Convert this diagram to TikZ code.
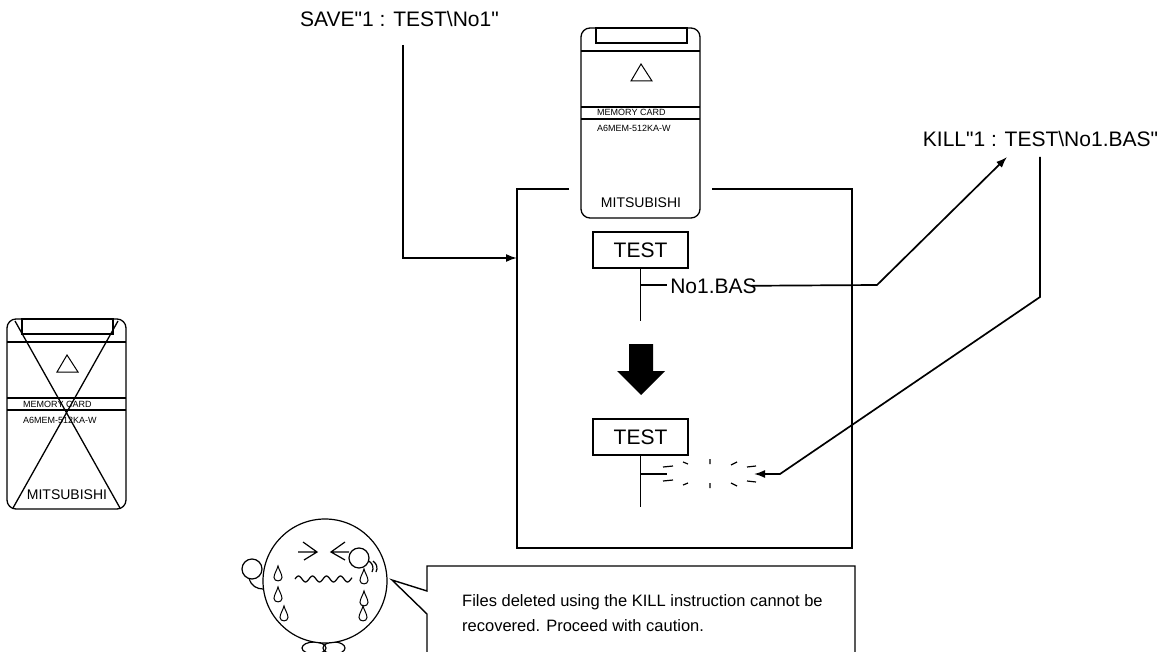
\documentclass[tikz,border=0pt]{standalone}
\usepackage{fontspec}
\setmainfont{Liberation Sans}
\usetikzlibrary{arrows.meta}
\begin{document}
\begin{tikzpicture}[x=1pt,y=-1pt,
  conn/.style={line width=1.7pt},
  tip/.style={-{Latex[length=11pt,width=8pt]}},
  lbl/.style={font=\fontsize{21}{26}\selectfont, inner sep=0pt},
  dirbox/.style={draw, line width=1.3pt, minimum width=95pt, minimum height=36pt, inner sep=0pt,
    font=\fontsize{21}{26}\selectfont},
  cardline/.style={line width=1.3pt},
  face/.style={line width=1.2pt},
  dashbit/.style={line width=1.2pt},
  cardsmall/.style={font=\fontsize{9}{10}\selectfont, anchor=base west, inner sep=0pt},
  memcard/.pic={
    \draw[cardline, rounded corners=9pt] (0,0) rectangle (119,190);
    \draw[cardline] (15,0) rectangle (106,15);
    \draw[cardline] (0,23) -- (119,23);
    \draw[line width=1pt, line join=miter] (60,36) -- (71,53) -- (50,53) -- cycle;
    \draw[cardline] (0,79) -- (119,79) (0,91) -- (119,91);
    \node[cardsmall] (-mc) at (16,88) {MEMORY CARD};
    \node[cardsmall] (-model) at (16,104) {A6MEM-512KA-W};
    \node[font=\fontsize{14}{16}\selectfont, anchor=base, inner sep=0pt] (-maker) at (60,180) {MITSUBISHI};
  },
  tear/.pic={
    \draw[line width=1pt] (0,0) .. controls (-1,4) and (-4,8) .. (-4,11.5)
      .. controls (-4,16) and (4,16) .. (4,11.5)
      .. controls (4,8) and (1,4) .. cycle;
  }
]
\useasboundingbox (0,0) rectangle (1166,652);
\clip (0,0) rectangle (1166,652);

% ---- memory cards ----
\pic (card) at (581,28) {memcard};
\pic (oldcard) at (7,319) {memcard};
\draw[cardline] (15,321) -- (120,508) (118,321) -- (13,508);

% ---- card contents frame ----
\draw[conn] (569,189) -- (517,189) -- (517,548) -- (852,548) -- (852,189) -- (712,189);

% ---- directory before deletion ----
\node[dirbox] (test1) at (640.5,250) {TEST};
\coordinate (tree1end) at (640.5,321);
\coordinate (tree1fork) at (640.5,285);
\coordinate (tree1leaf) at (667,285);
\draw[conn] (test1.south) -- (tree1end);
\draw[conn] (tree1fork) -- (tree1leaf);
\node[lbl, anchor=base] (bas) at (713.5,293) {No1.BAS};

% ---- big down arrow ----
\fill (629,344) -- (653,344) -- (653,371) -- (665,371) -- (641,395) -- (617,371) -- (629,371) -- cycle;

% ---- directory after deletion ----
\node[dirbox] (test2) at (640.5,437) {TEST};
\coordinate (tree2end) at (640.5,507);
\coordinate (tree2fork) at (640.5,474);
\coordinate (tree2leaf) at (667,474);
\draw[conn] (test2.south) -- (tree2end);
\draw[conn] (tree2fork) -- (tree2leaf);

% burst where the file used to be
\draw[dashbit]
  (663,467) -- (673,466)  (683,462) -- (688,464)
  (663,481) -- (673,480)  (683,485) -- (688,483)
  (710,459) -- (710,464)  (710,483) -- (710,488)
  (731,465) -- (737,462)  (747,467) -- (756,466)
  (731,483) -- (737,486)  (747,481) -- (756,482);

% ---- instructions ----
\node[lbl, anchor=base] (save) at (399.5,27) {SAVE\textquotedbl 1 : TEST\textbackslash No1\textquotedbl};
\node[lbl, anchor=base] (kill) at (1040.5,147) {KILL\textquotedbl 1 : TEST\textbackslash No1.BAS\textquotedbl};

\coordinate (saveStart) at (403,45);
\coordinate (saveTurn) at (403,258);
\coordinate (saveIn) at (517,258);
\draw[conn,tip] (saveStart) -- (saveTurn) -- (saveIn);

\coordinate (basBend) at (877,285);
\coordinate (killIn) at (1007,157);
\draw[conn,tip] ([xshift=-5pt]bas.east) -- (basBend) -- (killIn);

\coordinate (killOut) at (1040,157);
\coordinate (killBend) at (1040,297);
\coordinate (delTurn) at (780,474);
\coordinate (delTip) at (754,474);
\draw[conn,tip] (killOut) -- (killBend) -- (delTurn) -- (delTip);

% ---- crying face ----
\draw[face] (314,648) ellipse[x radius=12, y radius=6];
\draw[face] (334,648) ellipse[x radius=11, y radius=6];
\draw[face, fill=white] (325,581) circle[radius=62];
% eyes
\draw[face] (298,552) -- (316,552) (303,542) -- (317,552) -- (304,560);
\draw[face] (331,552) -- (349,552) (345,542) -- (331,552) -- (345,560);
% mouth
\draw[face] plot[smooth, domain=0:57, samples=58] ({295+\x},{579-3*sin(\x*25.714)});
% tears
\pic at (278,566) {tear};
\pic at (278,587) {tear};
\pic at (284,606) {tear};
\pic at (364,569) {tear};
\pic at (364,591) {tear};
\pic at (363,606) {tear};
% hands
\draw[face] (249,578) .. controls (251,586) and (257,589) .. (263,589);
\draw[face, fill=white] (252,569) circle[radius=10];
\draw[face, fill=white] (359,558) circle[radius=10];
\draw[face] (369,561) .. controls (373,564) and (374,568) .. (372,572);
\draw[face] (373,561) .. controls (377,564) and (378,568) .. (376,572);

% ---- speech bubble ----
\draw[line width=1.4pt, line join=miter] (427,700) -- (427,614) -- (392,580) -- (427,591)
  -- (427,566) -- (855,566) -- (855,700);
\node[font=\fontsize{16.5}{25}\selectfont, inner sep=0pt, align=left, anchor=north west] (note) at (462,594)
  {Files deleted using the KILL instruction cannot be\\recovered. Proceed with caution.};
\end{tikzpicture}
\end{document}
